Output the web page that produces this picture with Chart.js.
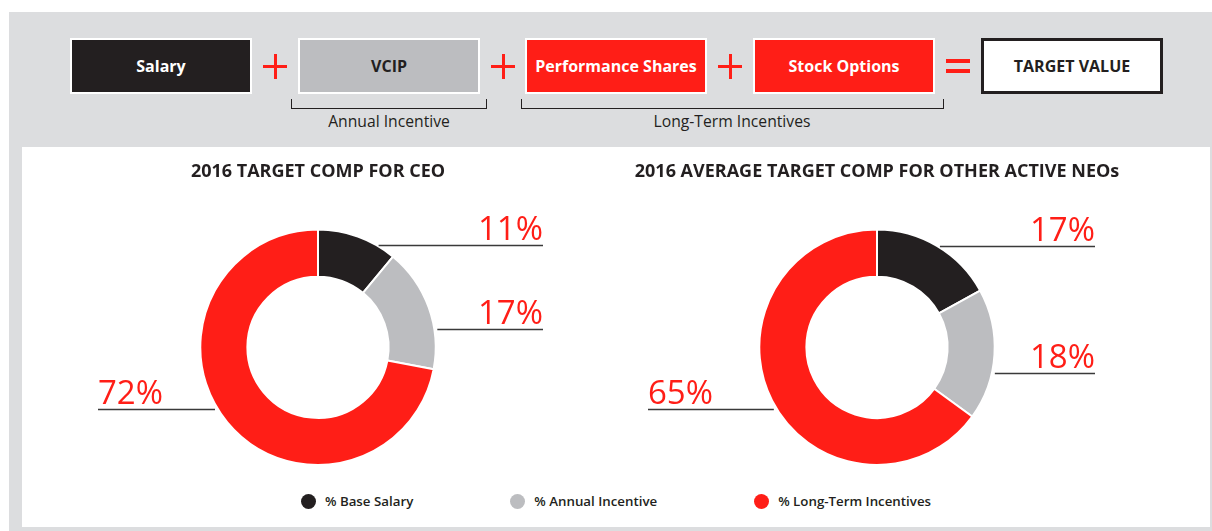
<!DOCTYPE html>
<html lang="en">
<head>
<meta charset="UTF-8">
<title>2016 Target Comp</title>
<script src="https://cdn.jsdelivr.net/npm/chart.js"></script>
<style>
body {
    margin: 0;
    width: 1212px;
    height: 531px;
    position: relative;
    overflow: hidden;
    background: #fff;
    font-family: 'Open Sans', sans-serif;
    color: #231f20;
}
#frame { position: absolute; left: 9px; top: 12px; width: 1203px; height: 519px; background: #dcdddf; }
#panel { position: absolute; left: 22px; top: 147px; width: 1188px; height: 380px; background: #fff; }

/* header boxes */
.box {
    position: absolute; top: 38px; width: 182px; height: 56px;
    box-sizing: border-box; border: 2px solid #fff;
    display: flex; align-items: center; justify-content: center;
    font-weight: 700; font-size: 16px;
}
.dark { background: #231f20; color: #fff; }
.grey { background: #bcbdc0; color: #231f20; }
.red  { background: #ff1e17; color: #fff; }
.total { background: #fff; border: 3px solid #231f20; color: #231f20; }

.plus { position: absolute; top: 54px; width: 24px; height: 25px; }
.plus::before { content: ''; position: absolute; left: 0; top: 11px; width: 24px; height: 3px; background: #ff1e17; }
.plus::after  { content: ''; position: absolute; left: 10.5px; top: 0; width: 3px; height: 25px; background: #ff1e17; }
.equals { position: absolute; left: 946px; top: 59px; width: 24px; height: 14px; border-top: 4px solid #ff1e17; border-bottom: 4px solid #ff1e17; box-sizing: border-box; }

.bracket { position: absolute; top: 99px; height: 9px; border: 1.5px solid #231f20; border-top: none; }
.blabel { position: absolute; top: 110px; font-size: 15.7px; text-align: center; width: 240px; }

.chartWrap { position: absolute; top: 152px; width: 560px; height: 314px; }

#legend {
    position: absolute; left: 22px; width: 1188px; top: 492px;
    display: flex; justify-content: center; gap: 97px;
}
.item { display: flex; align-items: center; gap: 9px; font-size: 13.3px; font-weight: 600; }
.dot { width: 15px; height: 15px; border-radius: 50%; }
</style>
</head>
<body>
<div id="frame"></div>
<div id="panel"></div>

<div class="box dark" style="left:70px">Salary</div>
<div class="plus" style="left:263px"></div>
<div class="box grey" style="left:298px">VCIP</div>
<div class="plus" style="left:491px"></div>
<div class="box red" style="left:525px">Performance Shares</div>
<div class="plus" style="left:718px"></div>
<div class="box red" style="left:753px">Stock Options</div>
<div class="equals"></div>
<div class="box total" style="left:981px">TARGET VALUE</div>

<div class="bracket" style="left:291px; width:194px"></div>
<div class="blabel" style="left:269px">Annual Incentive</div>
<div class="bracket" style="left:521px; width:421px"></div>
<div class="blabel" style="left:612px">Long-Term Incentives</div>

<div class="chartWrap" style="left:38px"><canvas id="ceoChart"></canvas></div>
<div class="chartWrap" style="left:597px"><canvas id="neoChart"></canvas></div>

<div id="legend"></div>

<script>
// data
const categories = ['% Base Salary', '% Annual Incentive', '% Long-Term Incentives'];
const ceoValues = [11, 17, 72];
const neoValues = [17, 18, 65];
const ceoTitle = '2016 TARGET COMP FOR CEO';
const neoTitle = '2016 AVERAGE TARGET COMP FOR OTHER ACTIVE NEOs';

const sliceColors = ['#231f20', '#bcbdc0', '#ff1e17'];

// leader lines with big red percent labels
const leaderLabels = {
    id: 'leaderLabels',
    afterDatasetsDraw(chart, args, opts) {
        const ctx = chart.ctx;
        const values = chart.data.datasets[0].data;
        chart.getDatasetMeta(0).data.forEach(function(arc, i) {
            const p = arc.getProps(['x', 'y', 'startAngle', 'endAngle', 'outerRadius'], true);
            const a = p.startAngle + (p.endAngle - p.startAngle) * opts.anchor[i];
            const ex = p.x + Math.cos(a) * p.outerRadius;
            const ey = Math.round(p.y + Math.sin(a) * p.outerRadius) + 0.5;
            const right = Math.cos(a) > 0;
            const endX = right ? p.x + opts.reachRight : p.x - opts.reachLeft;
            ctx.save();
            ctx.strokeStyle = '#3a3a3a';
            ctx.lineWidth = 1.5;
            ctx.beginPath();
            ctx.moveTo(ex + (right ? 3 : -3), ey);
            ctx.lineTo(endX, ey);
            ctx.stroke();
            ctx.fillStyle = '#ff1e17';
            ctx.font = '400 33px "Open Sans", sans-serif';
            ctx.textAlign = right ? 'right' : 'left';
            ctx.textBaseline = 'alphabetic';
            ctx.fillText(values[i] + '%', endX, ey - 6);
            ctx.restore();
        });
    }
};

function makeChart(id, values, title, labelOpts) {
    return new Chart(document.getElementById(id), {
        type: 'doughnut',
        data: {
            labels: categories,
            datasets: [{
                data: values,
                backgroundColor: sliceColors,
                borderColor: '#fff',
                borderWidth: 2,
                hoverOffset: 0
            }]
        },
        options: {
            responsive: true,
            maintainAspectRatio: false,
            animation: false,
            cutout: '60%',
            plugins: {
                legend: { display: false },
                tooltip: { enabled: false },
                title: {
                    display: true,
                    text: title,
                    color: '#231f20',
                    font: { family: 'Open Sans', size: 18, weight: 'bold' },
                    padding: { top: 9, bottom: 46 }
                },
                leaderLabels: labelOpts
            }
        },
        plugins: [leaderLabels]
    });
}

makeChart('ceoChart', ceoValues, ceoTitle, { anchor: [0.74, 0.68, 0.53], reachRight: 225, reachLeft: 220 });
makeChart('neoChart', neoValues, neoTitle, { anchor: [0.50, 0.64, 0.48], reachRight: 218, reachLeft: 229 });

// shared legend
const legend = document.getElementById('legend');
categories.forEach(function(name, i) {
    const item = document.createElement('div');
    item.className = 'item';
    item.innerHTML = '<span class="dot" style="background:' + sliceColors[i] + '"></span>' + name;
    legend.appendChild(item);
});
</script>
</body>
</html>
